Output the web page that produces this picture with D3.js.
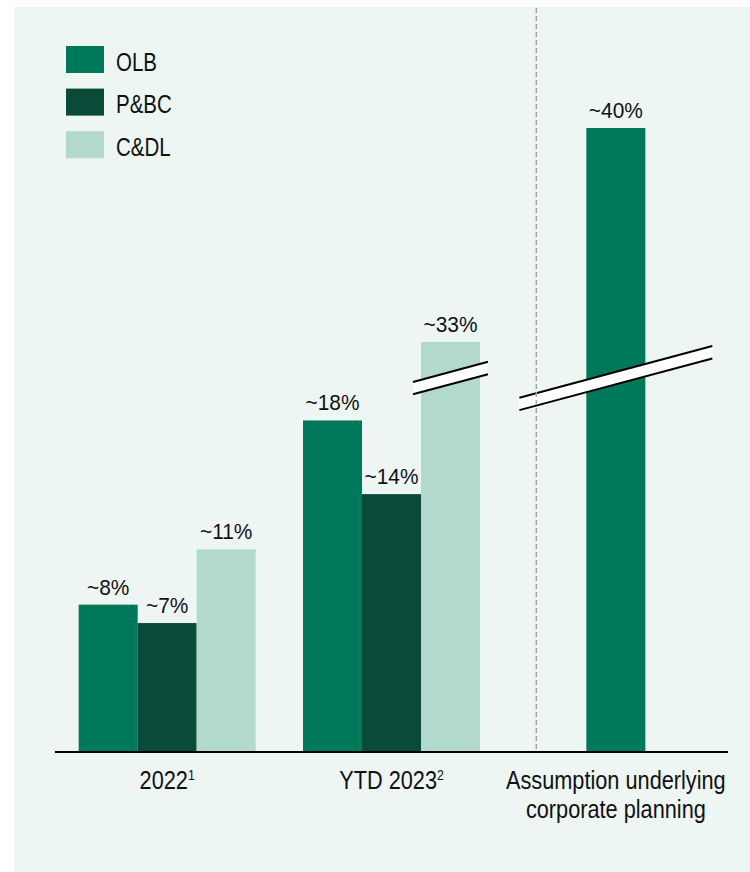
<!DOCTYPE html>
<html lang="en">
  <head>
    <meta charset="utf-8">
    <title>Segment growth</title>
    <style>
      body { margin: 0; background: #fff; }
      svg { display: block; font-family: "Liberation Sans", Arial, sans-serif; }
    </style>
  </head>
  <body>
    <svg></svg>
    <script src="https://d3js.org/d3.v7.min.js"></script>
    <script type="text/javascript">
      var categories = ["2022", "YTD 2023", "Assumption underlying corporate planning"];
      var categoryLines = [["2022"], ["YTD 2023"], ["Assumption underlying", "corporate planning"]];
      var footnotes = ["1", "2", ""];
      var series = ["OLB", "P&BC", "C&DL"];
      var olbValues = [8, 18, 40];
      var pbcValues = [7, 14, null];
      var cdlValues = [11, 33, null];
      // bars above this value get an axis break
      var breakValue = 20.3;

      var colors = { "OLB": "#00785a", "P&BC": "#0a4a38", "C&DL": "#b3d8cd" };
      var seriesValues = [olbValues, pbcValues, cdlValues];

      width = 750;
      height = 872;
      var baseline = 752;
      var narrow = 0.82;

      svg = d3.select("svg")
              .attr("width", width)
              .attr("height", height);

      svg.append("rect")
         .attr("x", 14).attr("y", 7)
         .attr("width", width - 14).attr("height", height - 7)
         .style("fill", "#eef6f3");

      var rows = categories.map(function(c, i) {
        var vals = series.map(function(s, j) {
          return { key: s, value: seriesValues[j][i] };
        }).filter(function(d) { return d.value != null; });
        return { cat: c, index: i, values: vals };
      });

      var x0 = d3.scaleBand()
                 .domain(categories)
                 .range([55, 728])
                 .paddingInner(0.211)
                 .paddingOuter(0.1055);

      var x1 = d3.scaleBand()
                 .domain(series)
                 .range([0, x0.bandwidth()]);

      // broken scale: everything above the break is squeezed
      var y = d3.scaleLinear()
                .domain([0, breakValue, 33, 40])
                .range([baseline, baseline - breakValue * 18.42, 342, 128]);

      function barX(row, d, k) {
        if (row.values.length == series.length) return x0(row.cat) + x1(d.key);
        var off = (x0.bandwidth() - row.values.length * x1.bandwidth()) / 2;
        return x0(row.cat) + off + k * x1.bandwidth();
      }

      var bars = [];
      rows.forEach(function(row) {
        row.values.forEach(function(d, k) {
          bars.push({ row: row, key: d.key, value: d.value, x: barX(row, d, k) });
        });
      });

      svg.selectAll("rect.bar")
         .data(bars)
         .enter()
         .append("rect")
         .attr("class", "bar")
         .attr("x", function(d) { return d.x; })
         .attr("y", function(d) { return y(d.value); })
         .attr("width", x1.bandwidth())
         .attr("height", function(d) { return baseline - y(d.value); })
         .style("fill", function(d) { return colors[d.key]; });

      svg.selectAll("text.val")
         .data(bars)
         .enter()
         .append("text")
         .attr("class", "val")
         .attr("transform", function(d) {
           return "translate(" + (d.x + x1.bandwidth() / 2) + "," + (y(d.value) - 10) + ") scale(0.95,1)";
         })
         .attr("text-anchor", "middle")
         .style("font-size", "22px")
         .style("fill", "#111")
         .text(function(d) { return "~" + d.value + "%"; });

      // axis break marks
      var slope = 0.268, half = 6.2;
      var broken = bars.filter(function(d) { return d.value > breakValue; });
      var breaks = svg.selectAll("g.brk")
         .data(broken)
         .enter()
         .append("g")
         .attr("class", "brk");

      function breakGeom(d) {
        var cx = d.x + x1.bandwidth() / 2;
        var cy = y(breakValue);
        var w = d.row.values.length == 1 ? x0.step() * 0.43 : x1.bandwidth() / 2 + 8;
        return { x1: cx - w, x2: cx + w, yl: cy + slope * w, yr: cy - slope * w };
      }

      breaks.append("polygon")
            .attr("points", function(d) {
              var g = breakGeom(d);
              return [[g.x1, g.yl - half], [g.x2, g.yr - half], [g.x2, g.yr + half], [g.x1, g.yl + half]].join(" ");
            })
            .style("fill", "#fff");

      [-half, half].forEach(function(o) {
        breaks.append("line")
              .attr("x1", function(d) { return breakGeom(d).x1; })
              .attr("y1", function(d) { return breakGeom(d).yl + o; })
              .attr("x2", function(d) { return breakGeom(d).x2; })
              .attr("y2", function(d) { return breakGeom(d).yr + o; })
              .style("stroke", "#000")
              .style("stroke-width", 2);
      });

      // divider before the planning column
      var divX = x0(categories[2]) + x0.step() * 0.04;
      svg.append("line")
         .attr("x1", divX).attr("x2", divX)
         .attr("y1", 8).attr("y2", baseline)
         .style("stroke", "#a3a3a3")
         .style("stroke-width", 1.5)
         .style("stroke-dasharray", "5,3");

      // baseline axis
      svg.append("line")
         .attr("x1", x0.range()[0]).attr("x2", x0.range()[1])
         .attr("y1", baseline).attr("y2", baseline)
         .style("stroke", "#000")
         .style("stroke-width", 2);

      // category labels
      rows.forEach(function(row) {
        var cx = x0(row.cat) + x0.bandwidth() / 2;
        var lines = categoryLines[row.index];
        lines.forEach(function(line, li) {
          var t = svg.append("text")
             .attr("transform", "translate(" + cx + "," + (788.7 + li * 29.5) + ") scale(" + narrow + ",1)")
             .attr("text-anchor", "middle")
             .style("font-size", "26.5px")
             .style("fill", "#111");
          t.append("tspan").text(line);
          if (li == lines.length - 1 && footnotes[row.index]) {
            t.append("tspan")
             .attr("dy", -8.5)
             .style("font-size", "15px")
             .text(footnotes[row.index]);
          }
        });
      });

      // legend
      var legend = svg.selectAll("g.leg")
         .data(series)
         .enter()
         .append("g")
         .attr("class", "leg")
         .attr("transform", function(d, i) { return "translate(66," + (46 + i * 42.6) + ")"; });

      legend.append("rect")
            .attr("width", 38)
            .attr("height", 27)
            .style("fill", function(d) { return colors[d]; });

      legend.append("text")
            .attr("transform", "translate(50,24.7) scale(" + narrow + ",1)")
            .style("font-size", "25px")
            .style("fill", "#111")
            .text(function(d) { return d; });
    </script>
  </body>
</html>
